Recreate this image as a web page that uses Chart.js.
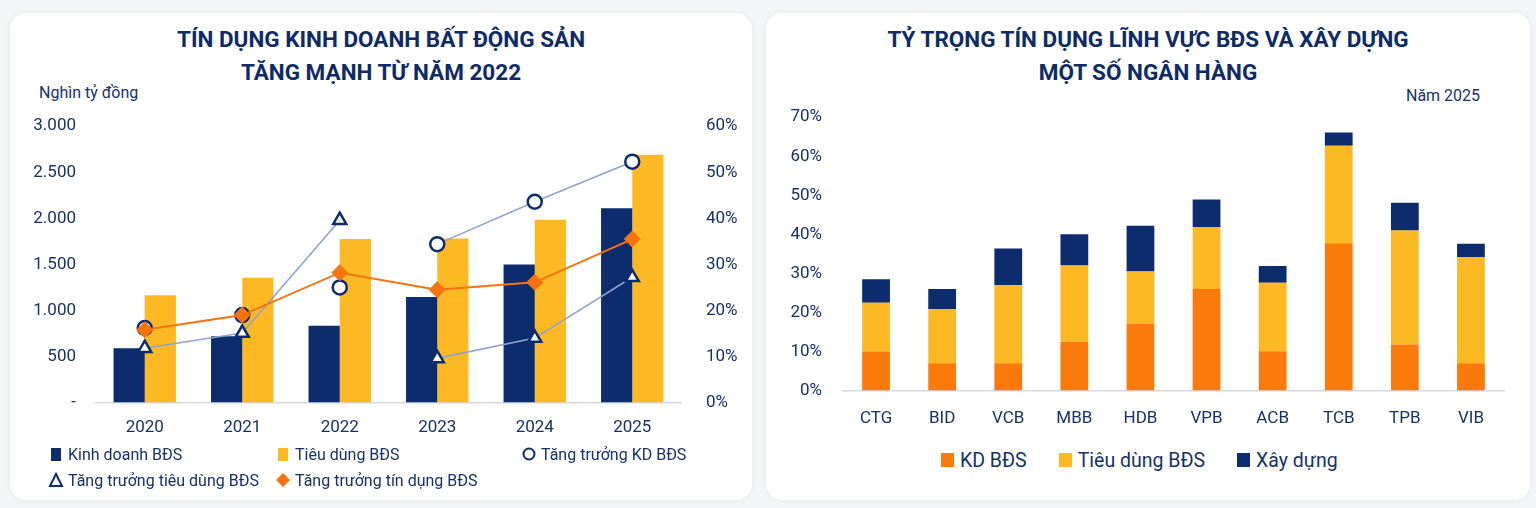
<!DOCTYPE html>
<html lang="vi">
<head>
<meta charset="utf-8">
<title>Tín dụng bất động sản</title>
<script src="https://cdn.jsdelivr.net/npm/chart.js@4.4.1/dist/chart.umd.min.js"></script>
<style>
  html, body { margin: 0; padding: 0; }
  body {
    width: 1536px; height: 508px; position: relative; overflow: hidden;
    background: #f4f5f7; font-family: Roboto, "Noto Sans", sans-serif; color: #17306a;
  }
  .card {
    position: absolute; top: 13px; height: 487px; background: #fff;
    border-radius: 16px; box-shadow: 0 0 6px rgba(20, 30, 60, 0.06);
  }
  .title {
    position: absolute; text-align: center;
    font-weight: 700; font-size: 22.5px; line-height: 33px; color: #0f2a66;
  }
  .note { position: absolute; font-size: 16px; color: #17306a; }
  .box { position: absolute; }
  .legend-left {
    position: absolute; left: 47px; top: 441px;
    display: grid; grid-template-columns: 227px 246px auto;
    font-size: 16px; color: #17306a;
  }
  .legend-right {
    position: absolute; left: 941px; top: 447px; display: flex; gap: 32px;
    font-size: 19.5px; color: #17306a;
  }
  .item { display: flex; align-items: center; height: 26px; white-space: nowrap; }
  .item svg { flex: 0 0 auto; }
</style>
</head>
<body>
<div class="card" style="left:10px; width:742px;"></div>
<div class="card" style="left:766px; width:764px;"></div>

<div class="title" style="left:10px; width:742px; top:23px;">TÍN DỤNG KINH DOANH BẤT ĐỘNG SẢN<br>TĂNG MẠNH TỪ NĂM 2022</div>
<div class="title" style="left:766px; width:764px; top:23px;">TỶ TRỌNG TÍN DỤNG LĨNH VỰC BĐS VÀ XÂY DỰNG<br>MỘT SỐ NGÂN HÀNG</div>
<div class="note" style="left:39px; top:83px;">Nghìn tỷ đồng</div>
<div class="note" style="left:1406px; top:86px;">Năm 2025</div>

<div class="box" style="left:20px; top:99px; width:730px; height:350px;"><canvas id="creditChart"></canvas></div>
<div class="legend-left" id="creditLegend"></div>

<div class="box" style="left:780px; top:94px; width:740px; height:349px;"><canvas id="shareChart"></canvas></div>
<div class="legend-right" id="shareLegend"></div>

<script>
// ---- left chart data ----
const years = ['2020', '2021', '2022', '2023', '2024', '2025'];
const kinhDoanh = [590, 720, 835, 1145, 1500, 2110];          // nghìn tỷ đồng
const tieuDung = [1165, 1355, 1775, 1780, 1985, 2690];        // nghìn tỷ đồng
const tangTruongKD = [16.2, 19.0, 25.0, 34.4, 43.6, 52.3];    // %
const tangTruongTD = [11.8, 15.1, 39.6, 9.6, 14.0, 27.2];     // %
const tangTruongTinDung = [15.8, 19.0, 28.2, 24.5, 26.1, 35.5]; // %
const leftTicks = [0, 500, 1000, 1500, 2000, 2500, 3000];

// ---- right chart data ----
const banks = ['CTG', 'BID', 'VCB', 'MBB', 'HDB', 'VPB', 'ACB', 'TCB', 'TPB', 'VIB'];
const kdBds = [10.0, 7.0, 7.0, 12.5, 17.1, 26.0, 10.1, 37.7, 11.8, 7.0];
const tieuDungBds = [12.5, 13.9, 20.0, 19.5, 13.4, 15.9, 17.5, 25.0, 29.2, 27.2];
const xayDung = [6.0, 5.1, 9.4, 8.0, 11.7, 7.0, 4.3, 3.4, 7.1, 3.4];

const NAVY = '#0c2c6e';
const YELLOW = '#fdb924';
const ORANGE = '#f7730f';
const KD_ORANGE = '#fa7a0c';
const LINE_BLUE = '#8fa3cc';
const TEXT = '#17306a';

Chart.defaults.font.family = 'Roboto, "Noto Sans", sans-serif';
Chart.defaults.color = TEXT;

// segments of the grey-blue lines that the original does not draw
const hideSegments = (hidden, color) => ({
  borderColor: ctx => hidden.includes(ctx.p0DataIndex) ? 'rgba(0,0,0,0)' : color
});

const fmtThousands = v => v === 0 ? '-' : v.toLocaleString('de-DE');

const creditChart = new Chart(document.getElementById('creditChart'), {
  data: {
    labels: years,
    datasets: [
      { type: 'bar', label: 'Kinh doanh BĐS', data: kinhDoanh, backgroundColor: NAVY,
        yAxisID: 'y', order: 3, barPercentage: 1, categoryPercentage: 0.64 },
      { type: 'bar', label: 'Tiêu dùng BĐS', data: tieuDung, backgroundColor: YELLOW,
        yAxisID: 'y', order: 3, barPercentage: 1, categoryPercentage: 0.64 },
      { type: 'line', label: 'Tăng trưởng KD BĐS', data: tangTruongKD, yAxisID: 'y1', order: 1,
        borderColor: LINE_BLUE, borderWidth: 1.6, pointStyle: 'circle', pointRadius: 7,
        pointBorderWidth: 2.5, pointBorderColor: NAVY, pointBackgroundColor: '#fff',
        segment: hideSegments([0, 1, 2], LINE_BLUE) },
      { type: 'line', label: 'Tăng trưởng tiêu dùng BĐS', data: tangTruongTD, yAxisID: 'y1', order: 2,
        borderColor: LINE_BLUE, borderWidth: 1.6, pointStyle: 'triangle', pointRadius: 7.5,
        pointBorderWidth: 2.5, pointBorderColor: NAVY, pointBackgroundColor: '#fff',
        segment: hideSegments([2], LINE_BLUE) },
      { type: 'line', label: 'Tăng trưởng tín dụng BĐS', data: tangTruongTinDung, yAxisID: 'y1', order: 0,
        borderColor: ORANGE, borderWidth: 2, pointStyle: 'rectRot', pointRadius: 8,
        pointBorderWidth: 1, pointBorderColor: ORANGE, pointBackgroundColor: ORANGE }
    ]
  },
  options: {
    responsive: true,
    maintainAspectRatio: false,
    animation: false,
    layout: { padding: { top: 0, bottom: 4 } },
    plugins: { legend: { display: false }, tooltip: { enabled: false } },
    scales: {
      x: {
        grid: { display: false },
        border: { display: true, color: '#d3d8e2', width: 1.5 },
        ticks: { font: { size: 17 }, padding: 7, color: TEXT }
      },
      y: {
        position: 'left', min: 0, max: 3000,
        afterBuildTicks: axis => { axis.ticks = leftTicks.map(v => ({ value: v })); },
        afterFit: axis => { axis.width = 76; },
        grid: { display: false }, border: { display: false },
        ticks: { font: { size: 17 }, padding: 12, color: TEXT, callback: fmtThousands }
      },
      y1: {
        position: 'right', min: 0, max: 60,
        afterFit: axis => { axis.width = 69; },
        grid: { display: false }, border: { display: false },
        ticks: { stepSize: 10, font: { size: 17 }, padding: 17, color: TEXT, callback: v => v + '%' }
      }
    }
  }
});

const shareChart = new Chart(document.getElementById('shareChart'), {
  type: 'bar',
  data: {
    labels: banks,
    datasets: [
      { label: 'KD BĐS', data: kdBds, backgroundColor: KD_ORANGE },
      { label: 'Tiêu dùng BĐS', data: tieuDungBds, backgroundColor: YELLOW },
      { label: 'Xây dựng', data: xayDung, backgroundColor: NAVY }
    ]
  },
  options: {
    responsive: true,
    maintainAspectRatio: false,
    animation: false,
    barPercentage: 0.42,
    categoryPercentage: 1,
    layout: { padding: { right: 16, bottom: 4 } },
    plugins: { legend: { display: false }, tooltip: { enabled: false } },
    scales: {
      x: {
        stacked: true,
        grid: { display: false },
        border: { display: true, color: '#d3d8e2', width: 1.5 },
        ticks: { font: { size: 17 }, padding: 10, color: TEXT }
      },
      y: {
        stacked: true, min: 0, max: 70,
        afterFit: axis => { axis.width = 63; },
        grid: { display: false }, border: { display: false },
        ticks: { stepSize: 10, font: { size: 17 }, padding: 13, color: TEXT, callback: v => v + '%' }
      }
    }
  }
});

// ---- HTML legends built from the chart datasets ----
function markerSvg(ds) {
  const style = ds.type === 'line' ? ds.pointStyle : 'rect';
  const fill = ds.type === 'line' ? ds.pointBackgroundColor : ds.backgroundColor;
  const stroke = ds.type === 'line' ? ds.pointBorderColor : ds.backgroundColor;
  let shape;
  if (style === 'circle') {
    shape = `<circle cx="9" cy="9" r="5.5" fill="${fill}" stroke="${stroke}" stroke-width="2"/>`;
  } else if (style === 'triangle') {
    shape = `<polygon points="9,3 15,15 3,15" fill="${fill}" stroke="${stroke}" stroke-width="2"/>`;
  } else if (style === 'rectRot') {
    shape = `<polygon points="9,2 16,9 9,16 2,9" fill="${fill}"/>`;
  } else {
    shape = `<rect x="4" y="3" width="10" height="13" fill="${fill}"/>`;
  }
  return `<svg width="18" height="18" viewBox="0 0 18 18" style="margin-right:3px">${shape}</svg>`;
}

document.getElementById('creditLegend').innerHTML = creditChart.data.datasets
  .map(ds => `<div class="item">${markerSvg(ds)}<span>${ds.label}</span></div>`).join('');

document.getElementById('shareLegend').innerHTML = shareChart.data.datasets
  .map(ds => `<div class="item"><svg width="13" height="14" style="margin-right:6px"><rect x="0" y="0" width="13" height="14" fill="${ds.backgroundColor}"/></svg><span>${ds.label}</span></div>`).join('');
</script>
</body>
</html>
